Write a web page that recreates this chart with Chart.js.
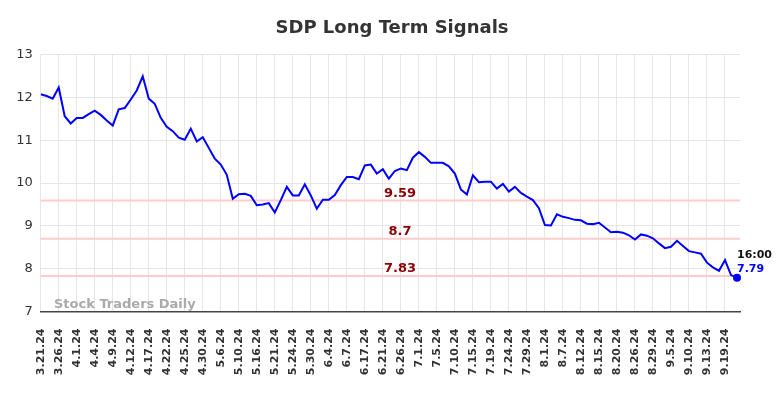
<!DOCTYPE html>
<html>
<head>
<meta charset="utf-8">
<script src="https://cdn.jsdelivr.net/npm/chart.js@4"></script>
<style>
  html, body { margin: 0; padding: 0; background: #fff; }
  #wrap { width: 784px; height: 398px; }
</style>
</head>
<body>
<div id="wrap"><canvas id="chart" width="784" height="398"></canvas></div>
<script>
// tick labels, one every 3 trading days
const tickLabels = [
  "3.21.24", "3.26.24", "4.1.24", "4.4.24", "4.9.24", "4.12.24", "4.17.24", "4.22.24",
  "4.25.24", "4.30.24", "5.6.24", "5.10.24", "5.16.24", "5.21.24", "5.24.24", "5.30.24",
  "6.4.24", "6.7.24", "6.17.24", "6.21.24", "6.26.24", "7.1.24", "7.5.24", "7.10.24",
  "7.15.24", "7.19.24", "7.24.24", "7.29.24", "8.1.24", "8.7.24", "8.12.24", "8.15.24",
  "8.20.24", "8.26.24", "8.29.24", "9.5.24", "9.10.24", "9.13.24", "9.19.24"
];

// daily closing prices
const prices = [
  12.07, 12.03, 11.97, 12.23, 11.56, 11.39, 11.52, 11.52, 11.61, 11.69,
  11.59, 11.46, 11.34, 11.72, 11.75, 11.95, 12.16, 12.49, 11.97, 11.85,
  11.52, 11.31, 11.21, 11.06, 11.01, 11.27, 10.97, 11.07, 10.82, 10.57,
  10.43, 10.19, 9.63, 9.74, 9.75, 9.70, 9.48, 9.50, 9.53, 9.31,
  9.60, 9.91, 9.71, 9.71, 9.97, 9.71, 9.40, 9.61, 9.61, 9.72,
  9.95, 10.14, 10.14, 10.09, 10.41, 10.43, 10.22, 10.32, 10.10, 10.28,
  10.34, 10.30, 10.59, 10.72, 10.61, 10.47, 10.47, 10.47, 10.39, 10.22,
  9.85, 9.73, 10.18, 10.02, 10.03, 10.03, 9.87, 9.98, 9.80, 9.91,
  9.77, 9.68, 9.60, 9.41, 9.02, 9.01, 9.27, 9.21, 9.18, 9.14,
  9.13, 9.05, 9.04, 9.07, 8.96, 8.85, 8.86, 8.84, 8.78, 8.68,
  8.80, 8.77, 8.71, 8.59, 8.48, 8.51, 8.65, 8.53, 8.41, 8.38,
  8.35, 8.14, 8.03, 7.95, 8.20, 7.85, 7.79
];

// signal levels
const signalLevels = [9.59, 8.7, 7.83];
const signalText = ["9.59", "8.7", "7.83"];

const lastTime = "16:00";
const lastValue = "7.79";

const points = prices.map((p, i) => ({ x: i, y: p }));
const lastIdx = prices.length - 1;

const extras = {
  id: "extras",
  beforeDatasetsDraw(chart) {
    const { ctx, chartArea, scales } = chart;
    ctx.save();
    // signal lines
    ctx.strokeStyle = "#ffcccc";
    ctx.lineWidth = 2;
    signalLevels.forEach((lv) => {
      const y = scales.y.getPixelForValue(lv);
      ctx.beginPath();
      ctx.moveTo(chartArea.left, y);
      ctx.lineTo(chartArea.right, y);
      ctx.stroke();
    });
    // watermark
    ctx.font = "bold 13px 'DejaVu Sans'";
    ctx.fillStyle = "#aaaaaa";
    ctx.textAlign = "left";
    ctx.textBaseline = "alphabetic";
    ctx.fillText("Stock Traders Daily", 54, 308);
    ctx.restore();
  },
  afterDatasetsDraw(chart) {
    const { ctx, scales } = chart;
    ctx.save();
    // signal labels
    ctx.font = "bold 13px 'DejaVu Sans'";
    ctx.fillStyle = "#8b0000";
    ctx.textAlign = "center";
    ctx.textBaseline = "alphabetic";
    signalLevels.forEach((lv, i) => {
      const y = scales.y.getPixelForValue(lv);
      ctx.fillText(signalText[i], 400, y - 4);
    });
    // last point annotation
    const px = scales.x.getPixelForValue(lastIdx);
    const py = scales.y.getPixelForValue(prices[lastIdx]);
    ctx.beginPath();
    ctx.fillStyle = "#0000ff";
    ctx.arc(px, py, 4, 0, Math.PI * 2);
    ctx.fill();
    ctx.textAlign = "left";
    ctx.font = "bold 11px 'DejaVu Sans'";
    ctx.fillStyle = "#111";
    ctx.fillText(lastTime, px, py - 20);
    ctx.fillStyle = "#0000ff";
    ctx.fillText(lastValue, px, py - 6);
    // title
    ctx.font = "bold 18px 'DejaVu Sans'";
    ctx.fillStyle = "#333";
    ctx.textAlign = "center";
    ctx.fillText("SDP Long Term Signals", 392, 33);
    ctx.restore();
  }
};

new Chart(document.getElementById("chart"), {
  type: "line",
  data: {
    datasets: [{
      data: points,
      borderColor: "#0000ff",
      borderWidth: 2,
      pointRadius: 0,
      tension: 0,
      fill: false
    }]
  },
  options: {
    responsive: false,
    animation: false,
    layout: { padding: { top: 54.5, right: 44, left: 0, bottom: 0 } },
    plugins: { legend: { display: false }, tooltip: { enabled: false } },
    scales: {
      x: {
        type: "linear",
        min: 0,
        max: 116.5,
        afterFit(scale) { scale.height = 86.5; },
        afterBuildTicks(scale) {
          scale.ticks = tickLabels.map((_, i) => ({ value: i * 3 }));
        },
        grid: { color: "#e6e6e6", drawTicks: false },
        border: { color: "#444", width: 1.5 },
        ticks: {
          autoSkip: false,
          maxRotation: 90,
          minRotation: 90,
          padding: 17,
          color: "#333",
          font: { family: "DejaVu Sans", size: 11, weight: "bold" },
          callback: (v) => tickLabels[Math.round(v / 3)]
        }
      },
      y: {
        min: 7,
        max: 13,
        afterFit(scale) { scale.width = 40.7; },
        grid: { color: "#e6e6e6", drawTicks: false },
        border: { display: false },
        ticks: {
          stepSize: 1,
          padding: 8,
          color: "#333",
          font: { family: "DejaVu Sans", size: 13 }
        }
      }
    }
  },
  plugins: [extras]
});
</script>
</body>
</html>
